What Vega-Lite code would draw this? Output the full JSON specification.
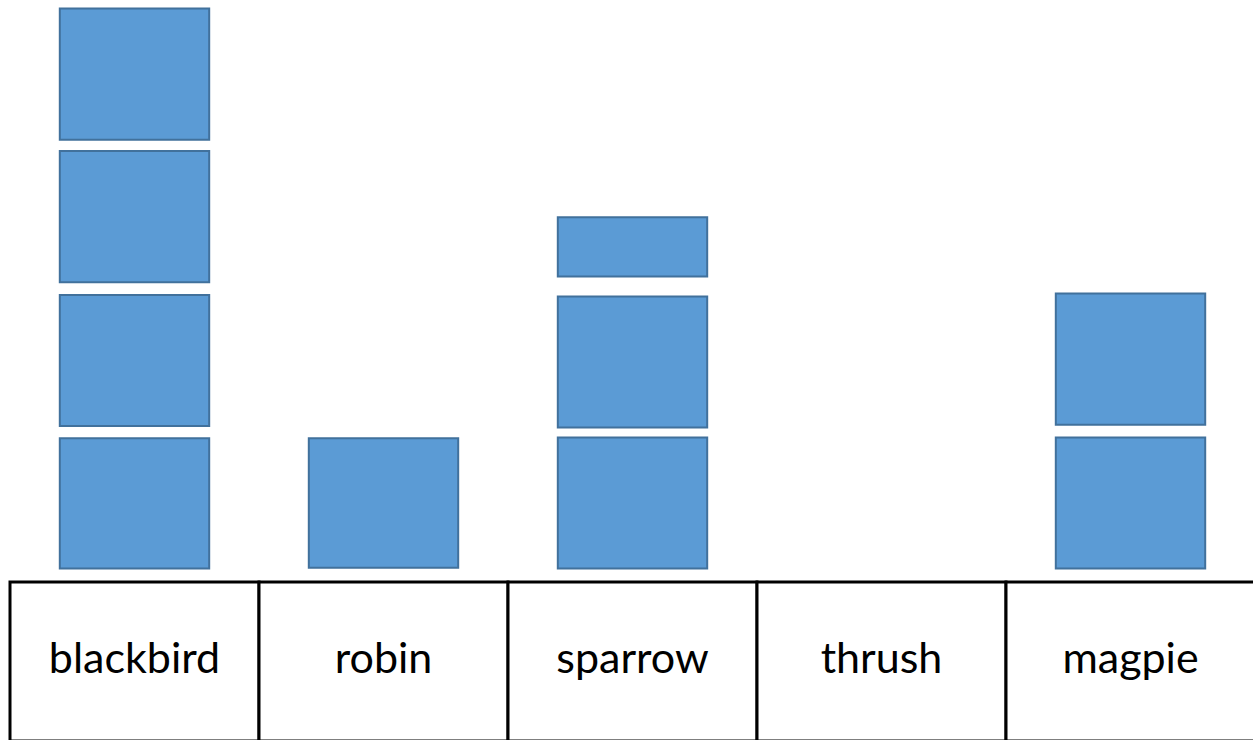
{
  "$schema": "https://vega.github.io/schema/vega-lite/v6.json",
  "padding": {"left": 8, "top": 0, "right": 0, "bottom": 0},
  "spacing": 10,
  "background": "white",
  "config": {"view": {"stroke": null}},
  "datasets": {
    "blocks": [
      {"bird": "blackbird", "block": 1, "start": 0.01, "end": 0.925},
      {"bird": "blackbird", "block": 2, "start": 1.01, "end": 1.93},
      {"bird": "blackbird", "block": 3, "start": 2.02, "end": 2.94},
      {"bird": "blackbird", "block": 4, "start": 3.02, "end": 3.94},
      {"bird": "robin", "block": 1, "start": 0.015, "end": 0.925},
      {"bird": "sparrow", "block": 1, "start": 0.01, "end": 0.93},
      {"bird": "sparrow", "block": 2, "start": 1.0, "end": 1.92},
      {"bird": "sparrow", "block": 3, "start": 2.06, "end": 2.475},
      {"bird": "magpie", "block": 1, "start": 0.01, "end": 0.93},
      {"bird": "magpie", "block": 2, "start": 1.02, "end": 1.94}
    ],
    "birds": [
      {"bird": "blackbird"},
      {"bird": "robin"},
      {"bird": "sparrow"},
      {"bird": "thrush"},
      {"bird": "magpie"}
    ]
  },
  "vconcat": [
    {
      "width": 1245,
      "height": 570,
      "data": {"name": "blocks"},
      "mark": {"type": "bar", "width": {"band": 0.6}, "fill": "#5b9bd5", "stroke": "#41719c", "strokeWidth": 2},
      "encoding": {
        "x": {"field": "bird", "type": "nominal", "sort": null,
              "scale": {"domain": ["blackbird", "robin", "sparrow", "thrush", "magpie"], "paddingInner": 0, "paddingOuter": 0},
              "axis": null},
        "y": {"field": "start", "type": "quantitative", "scale": {"domain": [0, 4], "nice": false, "zero": false}, "axis": null},
        "y2": {"field": "end"}
      }
    },
    {
      "width": 1245,
      "height": 159,
      "data": {"name": "birds"},
      "encoding": {
        "x": {"field": "bird", "type": "nominal", "sort": null,
              "scale": {"domain": ["blackbird", "robin", "sparrow", "thrush", "magpie"], "paddingInner": 0, "paddingOuter": 0},
              "axis": null}
      },
      "layer": [
        {"mark": {"type": "rect", "fill": "white", "stroke": "black", "strokeWidth": 3}},
        {"mark": {"type": "text", "font": "Lato", "fontSize": 43, "fill": "black", "baseline": "middle", "align": "center", "dy": -2},
         "encoding": {"text": {"field": "bird"}}}
      ]
    }
  ]
}
